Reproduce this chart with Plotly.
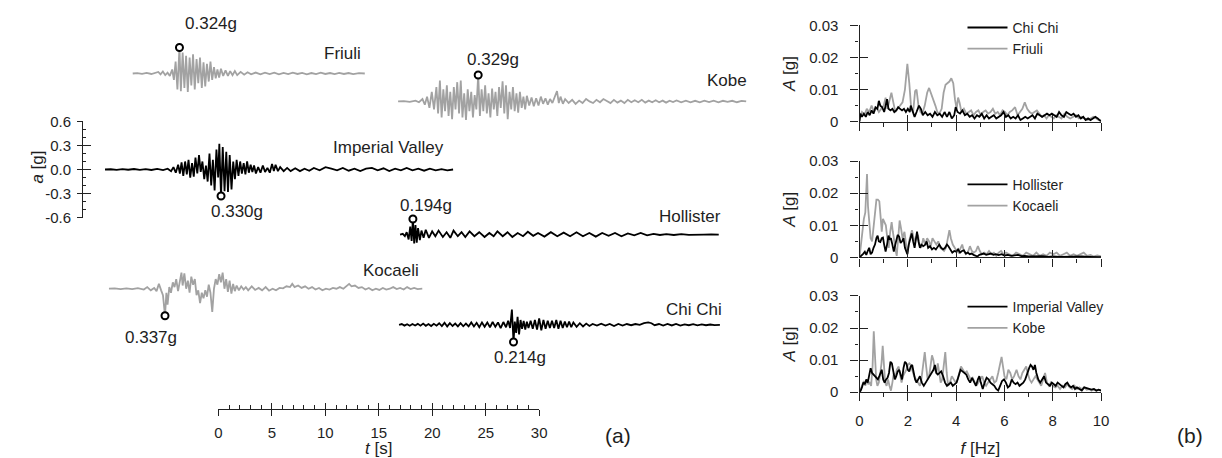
import plotly.graph_objects as go

# ---------------------------------------------------------------------------
# Accelerograms: time from record start [s], ground acceleration [g]
# ---------------------------------------------------------------------------
friuli_t = [0, 0.43, 0.87, 1.3, 1.74, 2.17, 2.39, 2.6, 2.82, 3.04, 3.26, 3.47, 3.69,
            3.85, 4.01, 4.18, 4.37, 4.5, 4.67, 4.83, 4.99, 5.15, 5.32, 5.48, 5.64, 5.8, 5.97, 6.13, 6.29,
            6.46, 6.62, 6.78, 6.94, 7.11, 7.27, 7.43, 7.6, 7.76, 7.92, 8.08, 8.25,
            8.46, 8.68, 8.9, 9.11, 9.33, 9.55, 9.77, 10.09, 10.42, 10.74, 11.07,
            11.5, 11.94, 12.37, 12.8, 13.24, 13.67, 14.11, 14.54, 14.97, 15.41, 15.84, 16.28, 16.71, 17.14,
            17.58, 18.01, 18.45, 18.88, 19.31, 19.75, 20.18, 20.62, 21.16, 21.7]
friuli_a = [0, 0.005, -0.005, 0.008, -0.006, 0.01, 0.02, -0.01, 0.025, -0.02, 0.01, -0.03, 0.05,
            -0.08, 0.15, -0.2, 0.324, -0.22, 0.26, -0.18, 0.22, -0.23, 0.2, -0.15, 0.24, -0.2, 0.18, -0.12, 0.2,
            -0.18, 0.14, -0.16, 0.12, -0.1, 0.15, -0.08, 0.08, -0.06, 0.05, -0.05, 0.06,
            -0.03, 0.04, -0.03, 0.03, -0.02, 0.03, -0.02, 0.02, -0.015, 0.015, -0.01,
            0.012, -0.01, 0.01, -0.008, 0.01, -0.01, 0.008, -0.008, 0.01, -0.006, 0.008, -0.01, 0.006, -0.008,
            0.01, -0.006, 0.006, -0.008, 0.008, -0.006, 0.006, -0.008, 0.005, 0.0]

kobe_t = [0, 0.54, 1.09, 1.63, 1.95, 2.28, 2.5, 2.71, 2.93, 3.15, 3.36, 3.58,
          3.74, 3.91, 4.07, 4.23, 4.39, 4.56, 4.72, 4.88, 5.05, 5.21, 5.37, 5.53, 5.7, 5.86, 6.02, 6.18, 6.35,
          6.51, 6.67, 6.84, 7.0, 7.16, 7.32, 7.49, 7.65, 7.81, 7.97, 8.14, 8.3, 8.46, 8.63, 8.79, 8.95, 9.11,
          9.28, 9.44, 9.6, 9.77, 9.93, 10.09, 10.25, 10.42, 10.58, 10.74, 10.9, 11.07, 11.23, 11.39, 11.56,
          11.72, 11.88,
          12.04, 12.26, 12.48, 12.69, 12.91, 13.13, 13.35, 13.56, 13.78, 14.0, 14.21, 14.43, 14.65, 14.86, 15.03,
          15.19, 15.41, 15.62, 15.95, 16.28, 16.6, 16.93, 17.25, 17.58, 17.9, 18.23, 18.55, 18.88, 19.2, 19.53,
          19.86, 20.18, 20.51, 20.83, 21.16, 21.48, 21.81, 22.13, 22.46, 22.79, 23.11, 23.44, 23.76, 24.09, 24.41,
          24.74, 25.06, 25.39, 25.71, 26.04, 26.47, 26.91, 27.34, 27.78, 28.21, 28.64, 29.08, 29.51, 29.95, 30.38,
          30.81, 31.25, 31.68, 32.12, 32.55]
kobe_a = [0, 0.005, -0.006, 0.01, -0.01, 0.03, -0.04, 0.06, -0.08, 0.12, -0.1, 0.18,
          -0.15, 0.26, -0.2, 0.15, -0.12, 0.2, -0.18, 0.12, -0.22, 0.18, -0.1, 0.24, -0.15, 0.26, -0.2, 0.1, -0.23,
          0.15, -0.12, 0.12, -0.2, 0.08, -0.1, 0.329, -0.18, 0.15, -0.12, 0.2, -0.15, 0.1, -0.2, 0.16, -0.1, 0.12,
          -0.18, 0.18, -0.08, 0.25, -0.15, 0.2, -0.22, 0.12, -0.1, 0.18, -0.12, 0.1, -0.14, 0.12, -0.08,
          0.06, -0.1,
          0.07, -0.05, 0.05, -0.06, 0.04, -0.05, 0.06, -0.03, 0.04, -0.04, 0.03, -0.02, 0.05, 0.13, -0.02,
          0.06, -0.03, 0.03, -0.02, 0.02, -0.03, 0.01, -0.02, 0.03, 0.0, -0.02, 0.02, -0.01, 0.03, 0.0,
          -0.02, 0.02, -0.015, 0.01, -0.02, 0.02, -0.01, 0.015, -0.01, 0.02, -0.015, 0.01, -0.01, 0.015, -0.01,
          0.01, -0.015, 0.01, -0.008, 0.012, -0.01, 0.01, -0.01, 0.008, -0.01, 0.01, -0.008, 0.01, -0.01, 0.008,
          -0.006, 0.008, -0.01, 0.006, 0.0]

imperial_t = [0, 0.54, 1.09, 1.63, 2.17, 2.71, 3.26, 3.8, 4.34, 4.88, 5.43, 5.86, 6.18, 6.4,
              6.62, 6.84, 7.0, 7.16, 7.32, 7.49, 7.65, 7.81, 7.97, 8.14, 8.3, 8.46, 8.63, 8.79, 8.95, 9.11,
              9.28, 9.44, 9.6, 9.77, 9.93, 10.09, 10.25, 10.42, 10.58, 10.69, 10.85,
              11.01, 11.18, 11.34, 11.5, 11.66, 11.83, 11.99, 12.15, 12.31, 12.48, 12.64, 12.8, 12.97, 13.13,
              13.29, 13.45, 13.62, 13.78, 13.94, 14.11,
              14.32, 14.54, 14.76, 14.97, 15.19, 15.41, 15.62, 15.79, 15.95, 16.17, 16.38, 16.71, 17.03, 17.36,
              17.79, 18.23, 18.66, 19.1, 19.53,
              20.07, 20.62, 21.16, 21.7, 22.24, 22.79, 23.33, 23.87, 24.41, 24.96, 25.5, 26.04, 26.58, 27.13,
              27.67, 28.21, 28.75, 29.3, 29.84, 30.38, 30.92, 31.47, 32.01, 32.55]
imperial_a = [0, 0.003, -0.004, 0.005, -0.003, 0.006, -0.005, 0.004, -0.006, 0.008, -0.007, 0.01, -0.02, 0.03,
              -0.04, 0.06, -0.05, 0.09, -0.08, 0.1, -0.06, 0.12, -0.1, 0.08, -0.09, 0.15, -0.05, 0.18, -0.03, 0.1,
              -0.12, 0.05, -0.15, 0.2, -0.2, 0.12, -0.26, 0.25, -0.1, 0.32, -0.33,
              0.28, -0.27, 0.22, -0.28, 0.18, -0.25, 0.1, -0.12, 0.12, -0.08, 0.1, -0.05, 0.08, -0.06,
              0.1, -0.04, 0.06, -0.03, 0.05, -0.05,
              0.03, -0.04, 0.05, -0.03, 0.02, -0.04, 0.07, -0.02, 0.06, -0.02, 0.03, -0.02, 0.02, -0.02,
              0.015, -0.02, 0.01, -0.015, 0.02,
              -0.01, 0.03, 0.01, -0.01, 0.02, -0.015, 0.01, -0.02, 0.01, 0.02, -0.01, 0.015, -0.02, 0.01,
              -0.01, 0.02, -0.01, 0.01, -0.015, 0.01, -0.01, 0.005, -0.01, 0.0]

hollister_t = [0, 0.25, 0.45, 0.62, 0.8, 0.95, 1.08, 1.2, 1.32, 1.44,
               1.56, 1.68, 1.85, 2.0, 2.2, 2.4, 2.7, 3.0, 3.3, 3.6,
               4.0, 4.35, 4.7, 5.0, 5.4, 5.75, 6.1, 6.5, 6.95, 7.4,
               7.9, 8.35, 8.75, 9.1, 9.6, 10.05, 10.5, 11.0, 11.5, 11.95,
               12.45, 12.9, 13.5, 14.1, 14.7, 15.3, 15.9, 16.5, 17.1, 17.7,
               18.3, 18.9, 19.5, 20.1, 20.7, 21.3, 21.9, 22.5, 23.1, 23.7,
               24.3, 24.9, 25.6, 26.3, 27.0, 27.7, 28.4, 29.1, 29.8]
hollister_a = [0, 0.01, -0.02, 0.03, -0.06, 0.1, -0.08, 0.194, -0.11, 0.12,
               -0.1, 0.08, -0.07, 0.05, -0.04, 0.06, -0.04, 0.04, -0.02, 0.05,
               -0.03, 0.03, -0.04, 0.05, -0.02, 0.03, -0.03, 0.04, -0.02, 0.03,
               -0.03, 0.02, -0.02, 0.04, -0.02, 0.03, -0.03, 0.02, -0.02, 0.035,
               -0.015, 0.02, -0.025, 0.03, -0.02, 0.025, -0.02, 0.03, -0.02, 0.02,
               -0.025, 0.02, -0.015, 0.02, -0.02, 0.015, -0.01, 0.02, -0.01, 0.01,
               -0.005, 0.005, -0.005, 0.005, -0.003, 0.003, 0, 0.002, 0]

kocaeli_t = [0, 0.54, 1.09, 1.63, 2.17, 2.71, 3.26, 3.58, 3.91, 4.23,
             4.45, 4.67, 4.88, 5.05, 5.24, 5.37, 5.48, 5.64, 5.8, 5.97,
             6.13, 6.29, 6.46, 6.62, 6.78, 6.89, 7.05, 7.22, 7.38, 7.54,
             7.7, 7.87, 8.03, 8.19, 8.35, 8.52, 8.68, 8.84, 9.01, 9.17,
             9.33, 9.49, 9.66, 9.82, 9.98, 10.14, 10.31, 10.47, 10.63, 10.8,
             10.96, 11.12, 11.28, 11.45, 11.61, 11.77, 11.94, 12.15, 12.37, 12.59,
             12.8, 13.02, 13.35, 13.67, 14.0, 14.32, 14.65, 14.97, 15.3, 15.62,
             15.95, 16.28, 16.6, 16.93, 17.14, 17.36, 17.69, 18.01, 18.34, 18.66,
             18.99, 19.31, 19.64, 19.96, 20.29, 20.62, 20.94, 21.27, 21.59, 21.92,
             22.24, 22.46, 22.68, 23.0, 23.33, 23.65, 23.98, 24.3, 24.63, 24.96,
             25.28, 25.61, 25.93, 26.26, 26.58, 26.91, 27.23, 27.56, 27.88, 28.21,
             28.54, 28.86, 29.3]
kocaeli_a = [0, 0.004, -0.004, 0.005, -0.005, 0.008, -0.01, 0.02, -0.02, 0.01,
             -0.03, 0.06, -0.02, -0.08, -0.337, -0.05, -0.2, 0.02, -0.05, 0.08,
             0.02, 0.12, -0.03, 0.1, 0.2, 0.04, 0.19, 0.0, 0.1, -0.05,
             0.15, 0.05, 0.12, -0.08, -0.02, -0.18, -0.05, -0.12, -0.02, -0.1,
             0.05, -0.05, -0.29, 0.0, 0.12, 0.05, 0.18, 0.08, 0.2, 0.0,
             0.12, -0.04, 0.1, -0.06, 0.06, -0.03, 0.04, -0.02, 0.03, -0.01,
             0.02, -0.02, 0.03, -0.015, 0.01, -0.02, 0.02, -0.025, 0.0, -0.02,
             0.01, 0.005, 0.03, 0.02, 0.06, 0.02, 0.04, 0.01, 0.03, 0.0,
             0.02, -0.01, 0.01, -0.02, 0.0, -0.01, 0.01, 0.0, 0.02, 0.0,
             0.03, 0.06, 0.03, 0.04, 0.01, 0.02, -0.01, 0.01, -0.02, 0.0,
             -0.015, 0.01, -0.01, 0.0, 0.02, -0.005, 0.01, -0.01, 0.02, -0.005,
             0.01, -0.005, 0]

chichi_t = [0.0, 0.25, 0.5, 0.75, 1.0, 1.25, 1.5, 1.75, 2.0, 2.25, 2.5, 2.75, 3.0, 3.25, 3.5, 3.75,
            4.0, 4.25, 4.5, 4.75, 5.0, 5.25, 5.5, 5.75, 6.0, 6.25, 6.5, 6.75, 7.0, 7.25, 7.5, 7.75,
            8.0, 8.25, 8.5, 8.75, 9.0, 9.25, 9.5, 9.75, 10.0,
            10.2, 10.38, 10.55, 10.7, 10.82, 10.95, 11.08, 11.22, 11.36, 11.5,
            11.65, 11.8, 11.95, 12.1, 12.3, 12.5, 12.7, 12.9, 13.1, 13.3,
            13.5, 13.7, 13.9, 14.1, 14.3, 14.5, 14.7, 14.9, 15.1, 15.3,
            15.5, 15.7, 15.9, 16.1, 16.3, 16.6, 16.9, 17.2, 17.5, 17.8,
            18.1, 18.5, 18.9, 19.3, 19.7, 20.1, 20.5, 20.9, 21.3, 21.7,
            22.1, 22.5, 22.9, 23.3, 23.6, 23.9, 24.3, 24.7, 25.1, 25.5,
            25.9, 26.3, 26.7, 27.1, 27.5, 27.9, 28.3, 28.7, 29.1, 29.5, 30.0]
chichi_a = [0, 0.01, -0.01, 0.008, -0.012, 0.01, -0.008, 0.012, -0.01, 0.015, -0.012, 0.01, -0.015, 0.012,
            -0.01, 0.02, -0.015, 0.025, -0.02, 0.02, -0.015, 0.015, -0.02, 0.02, -0.018, 0.015, -0.02, 0.03,
            -0.02, 0.025, -0.03, 0.03, -0.025, 0.03, -0.03, 0.035, -0.025, 0.03, -0.04, 0.035, -0.03,
            0.05, -0.04, 0.19, -0.214, 0.04, -0.1, 0.1, -0.12, 0.06, -0.05,
            0.05, -0.06, 0.04, -0.04, 0.05, -0.05, 0.06, -0.06, 0.08, -0.07,
            0.06, -0.05, 0.05, -0.04, 0.05, -0.04, 0.06, -0.05, 0.05, -0.04,
            0.04, -0.03, 0.04, -0.03, 0.03, -0.025, 0.02, -0.02, 0.015, -0.015,
            0.01, -0.01, 0.015, -0.01, 0.01, -0.015, 0.01, -0.01, 0.01, -0.005,
            0.01, 0.0, 0.02, 0.03, 0.02, -0.005, 0.01, -0.01, 0.01, -0.008,
            0.01, -0.01, 0.006, -0.005, 0.008, -0.006, 0.005, -0.005, 0.004, -0.003, 0]

# ---------------------------------------------------------------------------
# Fourier amplitude spectra: frequency [Hz], amplitude [g]
# ---------------------------------------------------------------------------
friuli_f = [0.00, 0.10, 0.20, 0.30, 0.40, 0.50, 0.60, 0.70, 0.80, 0.90,
            1.00, 1.08, 1.15, 1.22, 1.32, 1.40, 1.48, 1.58, 1.68, 1.78,
            1.88, 1.98, 2.06, 2.14, 2.22, 2.30, 2.36, 2.44, 2.52, 2.60,
            2.70, 2.80, 2.88, 2.96, 3.05, 3.14, 3.22, 3.30, 3.40, 3.48,
            3.56, 3.64, 3.72, 3.80, 3.88, 3.95, 4.02, 4.08, 4.14, 4.22,
            4.32, 4.42, 4.52, 4.62, 4.72, 4.82, 4.92, 5.02, 5.12, 5.22,
            5.32, 5.42, 5.52, 5.62, 5.72, 5.82, 5.92, 6.02, 6.12, 6.22,
            6.32, 6.44, 6.54, 6.64, 6.74, 6.84, 6.94, 7.04, 7.14, 7.24,
            7.34, 7.44, 7.54, 7.64, 7.74, 7.84, 7.94, 8.04, 8.14, 8.24,
            8.36, 8.48, 8.60, 8.72, 8.84, 8.96, 9.08, 9.20, 9.32, 9.44,
            9.56, 9.68, 9.80, 9.90, 10.0]
friuli_A = [0.0015, 0.003, 0.002, 0.004, 0.003, 0.005, 0.003, 0.0045, 0.003, 0.004,
            0.005, 0.0075, 0.004, 0.006, 0.009, 0.006, 0.003, 0.004, 0.005, 0.006,
            0.010, 0.018, 0.012, 0.004, 0.003, 0.0095, 0.010, 0.005, 0.003, 0.0025,
            0.005, 0.009, 0.0105, 0.009, 0.007, 0.005, 0.003, 0.0025, 0.004, 0.009,
            0.0115, 0.012, 0.0125, 0.0135, 0.012, 0.007, 0.004, 0.0075, 0.006, 0.003,
            0.004, 0.0025, 0.003, 0.0035, 0.002, 0.003, 0.0035, 0.002, 0.003, 0.0035,
            0.0025, 0.003, 0.004, 0.0025, 0.003, 0.002, 0.0035, 0.003, 0.002, 0.003,
            0.0035, 0.0045, 0.002, 0.003, 0.004, 0.006, 0.004, 0.003, 0.0025, 0.003,
            0.0035, 0.0025, 0.0015, 0.002, 0.001, 0.002, 0.0015, 0.001, 0.002, 0.0015,
            0.001, 0.0025, 0.0015, 0.001, 0.0015, 0.002, 0.001, 0.0015, 0.001, 0.0005,
            0.001, 0.0015, 0.001, 0.0005, 0.0005]

chichi_f = [0.00, 0.04, 0.10, 0.18, 0.26, 0.34, 0.42, 0.50, 0.58, 0.66,
            0.74, 0.80, 0.86, 0.94, 1.02, 1.10, 1.14, 1.20, 1.28, 1.36,
            1.44, 1.52, 1.60, 1.68, 1.76, 1.84, 1.92, 2.00, 2.08, 2.12,
            2.20, 2.28, 2.36, 2.46, 2.54, 2.62, 2.72, 2.82, 2.92, 3.02,
            3.12, 3.22, 3.32, 3.42, 3.52, 3.62, 3.72, 3.82, 3.92, 3.98,
            4.06, 4.16, 4.26, 4.36, 4.46, 4.56, 4.66, 4.76, 4.86, 4.96,
            5.06, 5.16, 5.26, 5.36, 5.46, 5.56, 5.66, 5.76, 5.86, 5.96,
            6.06, 6.16, 6.26, 6.36, 6.46, 6.56, 6.66, 6.76, 6.86, 6.96,
            7.06, 7.16, 7.26, 7.36, 7.46, 7.56, 7.66, 7.76, 7.86, 7.96,
            8.06, 8.16, 8.26, 8.36, 8.46, 8.56, 8.66, 8.76, 8.86, 8.96,
            9.06, 9.16, 9.26, 9.36, 9.46, 9.56, 9.66, 9.76, 9.86, 9.94,
            10.0]
chichi_A = [0.0, 0.0025, 0.0015, 0.0025, 0.0015, 0.003, 0.002, 0.0035, 0.0025, 0.0045,
            0.004, 0.0065, 0.005, 0.0045, 0.003, 0.0055, 0.007, 0.004, 0.0035, 0.004,
            0.003, 0.0035, 0.0045, 0.004, 0.0035, 0.004, 0.003, 0.004, 0.003, 0.005,
            0.003, 0.0015, 0.003, 0.005, 0.004, 0.002, 0.003, 0.002, 0.0025, 0.0015,
            0.003, 0.002, 0.0025, 0.0015, 0.003, 0.0015, 0.003, 0.001, 0.002, 0.0045,
            0.003, 0.0025, 0.0035, 0.002, 0.0025, 0.0015, 0.002, 0.001, 0.002, 0.0015,
            0.0025, 0.001, 0.002, 0.001, 0.0015, 0.002, 0.001, 0.0015, 0.002, 0.003,
            0.0015, 0.002, 0.001, 0.0015, 0.001, 0.002, 0.0005, 0.001, 0.0015, 0.001,
            0.0015, 0.002, 0.001, 0.0025, 0.002, 0.0015, 0.002, 0.0025, 0.002, 0.0025,
            0.002, 0.0015, 0.003, 0.002, 0.0015, 0.003, 0.0025, 0.002, 0.0025, 0.0015,
            0.002, 0.001, 0.0015, 0.0005, 0.001, 0.0005, 0.001, 0.0015, 0.001, 0.0005,
            0.0]

kocaeli_f = [0.00, 0.06, 0.12, 0.18, 0.24, 0.28, 0.31, 0.35, 0.40, 0.46,
             0.52, 0.58, 0.64, 0.70, 0.76, 0.82, 0.88, 0.92, 0.97, 1.03,
             1.09, 1.15, 1.21, 1.27, 1.33, 1.38, 1.44, 1.50, 1.54, 1.60,
             1.66, 1.72, 1.78, 1.86, 1.92, 1.98, 2.05, 2.12, 2.17, 2.24,
             2.30, 2.36, 2.42, 2.48, 2.56, 2.64, 2.72, 2.80, 2.88, 2.95,
             3.02, 3.10, 3.18, 3.26, 3.34, 3.42, 3.50, 3.58, 3.66, 3.72,
             3.78, 3.86, 3.94, 4.02, 4.10, 4.18, 4.25, 4.32, 4.40, 4.48,
             4.57, 4.65, 4.73, 4.82, 4.90, 4.98, 5.06, 5.16, 5.26, 5.36,
             5.46, 5.56, 5.66, 5.76, 5.86, 5.96, 6.06, 6.20, 6.34, 6.48,
             6.62, 6.76, 6.90, 7.04, 7.18, 7.32, 7.46, 7.60, 7.74, 7.88,
             8.02, 8.16, 8.30, 8.44, 8.58, 8.72, 8.86, 9.00, 9.14, 9.28,
             9.42, 9.56, 9.70, 9.84, 10.0]
kocaeli_A = [0.0, 0.004, 0.01, 0.012, 0.014, 0.02, 0.026, 0.016, 0.01, 0.006,
             0.005, 0.01, 0.014, 0.018, 0.018, 0.0175, 0.012, 0.008, 0.012, 0.011,
             0.01, 0.006, 0.003, 0.008, 0.011, 0.008, 0.004, 0.002, 0.0005, 0.006,
             0.0115, 0.009, 0.006, 0.008, 0.004, 0.001, 0.005, 0.007, 0.0085, 0.006,
             0.005, 0.0065, 0.007, 0.004, 0.003, 0.006, 0.004, 0.006, 0.005, 0.0035,
             0.006, 0.005, 0.004, 0.005, 0.003, 0.0025, 0.002, 0.003, 0.006, 0.0085,
             0.006, 0.004, 0.003, 0.002, 0.0015, 0.003, 0.004, 0.002, 0.001, 0.0015,
             0.0035, 0.002, 0.0015, 0.002, 0.0035, 0.002, 0.001, 0.0015, 0.001, 0.002,
             0.001, 0.0015, 0.0005, 0.0015, 0.002, 0.001, 0.0015, 0.001, 0.0005, 0.0015,
             0.001, 0.0005, 0.0015, 0.001, 0.0005, 0.0015, 0.0005, 0.001, 0.0005, 0.0015,
             0.001, 0.0015, 0.0005, 0.001, 0.0015, 0.0005, 0.001, 0.0005, 0.001, 0.0015,
             0.0005, 0.0008, 0.0003, 0.0006, 0.0003]

hollister_f = [0.00, 0.08, 0.16, 0.22, 0.28, 0.34, 0.40, 0.46, 0.52, 0.58,
               0.64, 0.70, 0.75, 0.80, 0.86, 0.92, 0.97, 1.02, 1.08, 1.14,
               1.20, 1.25, 1.30, 1.36, 1.42, 1.48, 1.54, 1.58, 1.64, 1.70,
               1.76, 1.82, 1.88, 1.94, 1.98, 2.04, 2.10, 2.16, 2.22, 2.28,
               2.34, 2.38, 2.44, 2.50, 2.56, 2.64, 2.72, 2.78, 2.84, 2.92,
               3.00, 3.08, 3.16, 3.24, 3.30, 3.38, 3.46, 3.54, 3.62, 3.68,
               3.76, 3.84, 3.92, 4.00, 4.08, 4.16, 4.24, 4.32, 4.40, 4.48,
               4.56, 4.64, 4.72, 4.80, 4.88, 4.96, 5.04, 5.14, 5.24, 5.34,
               5.44, 5.54, 5.64, 5.76, 5.88, 6.00, 6.14, 6.28, 6.42, 6.56,
               6.70, 6.84, 7.00, 7.20, 7.40, 7.60, 7.80, 8.00, 8.30, 8.60,
               8.90, 9.20, 9.50, 9.80, 10.0]
hollister_A = [0.0, 0.0005, 0.0012, 0.0018, 0.0008, 0.002, 0.003, 0.001, 0.0015, 0.003,
               0.004, 0.006, 0.0068, 0.005, 0.0048, 0.006, 0.0062, 0.004, 0.0018, 0.004,
               0.0068, 0.0055, 0.006, 0.004, 0.0018, 0.004, 0.006, 0.007, 0.0065, 0.0045,
               0.005, 0.006, 0.003, 0.0015, 0.001, 0.004, 0.006, 0.0075, 0.005, 0.003,
               0.006, 0.008, 0.005, 0.003, 0.004, 0.0035, 0.004, 0.005, 0.003, 0.0035,
               0.0025, 0.003, 0.0025, 0.0035, 0.004, 0.003, 0.0025, 0.003, 0.004, 0.0035,
               0.0025, 0.0015, 0.002, 0.0018, 0.0025, 0.0015, 0.002, 0.0022, 0.0012, 0.0015,
               0.001, 0.0012, 0.0008, 0.0005, 0.0003, 0.0008, 0.001, 0.0012, 0.0008, 0.001,
               0.0012, 0.0008, 0.001, 0.0007, 0.001, 0.0006, 0.0008, 0.0005, 0.0007, 0.0008,
               0.0004, 0.0005, 0.0003, 0.0004, 0.0003, 0.0004, 0.0002, 0.0003, 0.0002, 0.0003,
               0.0002, 0.0003, 0.0002, 0.0002, 0.0001]

kobe_f = [0.00, 0.06, 0.12, 0.18, 0.24, 0.30, 0.36, 0.42, 0.48, 0.54,
          0.59, 0.64, 0.69, 0.74, 0.80, 0.86, 0.91, 0.96, 1.01, 1.06,
          1.12, 1.18, 1.24, 1.30, 1.36, 1.42, 1.48, 1.54, 1.62, 1.68,
          1.74, 1.80, 1.88, 1.94, 2.00, 2.06, 2.12, 2.18, 2.26, 2.34,
          2.42, 2.50, 2.56, 2.62, 2.70, 2.76, 2.82, 2.88, 2.94, 3.00,
          3.06, 3.12, 3.18, 3.24, 3.30, 3.36, 3.42, 3.48, 3.55, 3.61,
          3.67, 3.74, 3.82, 3.90, 3.98, 4.06, 4.14, 4.20, 4.28, 4.36,
          4.44, 4.52, 4.60, 4.68, 4.76, 4.84, 4.92, 5.00, 5.08, 5.16,
          5.24, 5.32, 5.40, 5.50, 5.58, 5.66, 5.74, 5.82, 5.88, 5.94,
          6.00, 6.08, 6.16, 6.24, 6.32, 6.40, 6.50, 6.58, 6.66, 6.74,
          6.82, 6.90, 6.96, 7.04, 7.12, 7.20, 7.28, 7.36, 7.44, 7.52,
          7.60, 7.68, 7.76, 7.84, 7.92, 8.00, 8.10, 8.20, 8.30, 8.40,
          8.50, 8.60, 8.70, 8.80, 8.90, 9.00, 9.10, 9.20, 9.30, 9.40,
          9.50, 9.60, 9.70, 9.80, 9.90, 10.0]
kobe_A = [0.0, 0.001, 0.002, 0.0035, 0.002, 0.004, 0.0025, 0.003, 0.002, 0.008,
          0.019, 0.01, 0.004, 0.002, 0.003, 0.006, 0.009, 0.0145, 0.008, 0.003,
          0.002, 0.004, 0.002, 0.0005, 0.003, 0.006, 0.004, 0.007, 0.008, 0.006,
          0.003, 0.005, 0.006, 0.007, 0.0085, 0.009, 0.0085, 0.007, 0.005, 0.004,
          0.003, 0.002, 0.004, 0.007, 0.0125, 0.008, 0.004, 0.005, 0.009, 0.0115,
          0.01, 0.007, 0.006, 0.009, 0.006, 0.003, 0.004, 0.008, 0.0125, 0.006,
          0.002, 0.003, 0.005, 0.004, 0.003, 0.004, 0.006, 0.008, 0.007, 0.006,
          0.0065, 0.005, 0.004, 0.0045, 0.003, 0.002, 0.003, 0.004, 0.005, 0.003,
          0.002, 0.003, 0.004, 0.005, 0.003, 0.0035, 0.006, 0.009, 0.011, 0.008,
          0.005, 0.004, 0.007, 0.006, 0.004, 0.005, 0.007, 0.005, 0.004, 0.006,
          0.007, 0.008, 0.006, 0.004, 0.003, 0.004, 0.005, 0.004, 0.003, 0.002,
          0.004, 0.006, 0.003, 0.002, 0.003, 0.002, 0.0015, 0.002, 0.001, 0.002,
          0.0015, 0.0025, 0.0015, 0.001, 0.002, 0.001, 0.0015, 0.001, 0.0015, 0.0008,
          0.001, 0.0005, 0.001, 0.0006, 0.0008, 0.0005]

imperial_f = [0.00, 0.05, 0.10, 0.16, 0.22, 0.28, 0.34, 0.40, 0.46, 0.52,
              0.58, 0.64, 0.70, 0.76, 0.82, 0.88, 0.92, 0.98, 1.04, 1.10,
              1.16, 1.22, 1.28, 1.34, 1.40, 1.46, 1.52, 1.58, 1.64, 1.70,
              1.76, 1.82, 1.88, 1.94, 2.00, 2.06, 2.12, 2.18, 2.24, 2.30,
              2.36, 2.42, 2.50, 2.58, 2.66, 2.74, 2.82, 2.90, 2.98, 3.06,
              3.12, 3.18, 3.24, 3.30, 3.38, 3.46, 3.54, 3.62, 3.70, 3.78,
              3.86, 3.94, 4.02, 4.10, 4.18, 4.26, 4.34, 4.42, 4.50, 4.58,
              4.66, 4.74, 4.82, 4.90, 4.96, 5.02, 5.10, 5.18, 5.26, 5.34,
              5.42, 5.50, 5.58, 5.66, 5.74, 5.82, 5.90, 5.98, 6.06, 6.14,
              6.22, 6.30, 6.38, 6.46, 6.54, 6.62, 6.70, 6.78, 6.86, 6.94,
              7.02, 7.08, 7.14, 7.20, 7.26, 7.32, 7.40, 7.48, 7.56, 7.64,
              7.72, 7.80, 7.88, 7.96, 8.04, 8.12, 8.20, 8.28, 8.36, 8.44,
              8.52, 8.60, 8.68, 8.76, 8.84, 8.92, 9.00, 9.10, 9.20, 9.30,
              9.40, 9.50, 9.60, 9.70, 9.80, 9.90, 10.0]
imperial_A = [0.0, 0.0005, 0.0015, 0.003, 0.0025, 0.004, 0.003, 0.005, 0.0075, 0.006,
              0.0055, 0.005, 0.0045, 0.004, 0.005, 0.0065, 0.007, 0.004, 0.003, 0.004,
              0.0045, 0.006, 0.0095, 0.009, 0.006, 0.004, 0.005, 0.0065, 0.007, 0.005,
              0.004, 0.0075, 0.0095, 0.009, 0.007, 0.0065, 0.008, 0.0085, 0.006, 0.004,
              0.003, 0.004, 0.005, 0.003, 0.002, 0.003, 0.004, 0.005, 0.006, 0.007,
              0.0085, 0.006, 0.0055, 0.006, 0.0065, 0.005, 0.003, 0.002, 0.0025, 0.003,
              0.002, 0.0025, 0.003, 0.005, 0.007, 0.0065, 0.006, 0.0055, 0.004, 0.003,
              0.0045, 0.003, 0.002, 0.004, 0.005, 0.003, 0.001, 0.003, 0.0045, 0.004,
              0.003, 0.0025, 0.002, 0.001, 0.0005, 0.002, 0.0035, 0.004, 0.003, 0.0015,
              0.002, 0.004, 0.003, 0.0025, 0.003, 0.002, 0.0025, 0.003, 0.004, 0.006,
              0.0075, 0.0085, 0.008, 0.007, 0.0085, 0.006, 0.004, 0.003, 0.004, 0.005,
              0.003, 0.0025, 0.002, 0.003, 0.0025, 0.002, 0.003, 0.0025, 0.002, 0.0015,
              0.0025, 0.003, 0.002, 0.0015, 0.002, 0.001, 0.0015, 0.001, 0.0005, 0.0015,
              0.0012, 0.001, 0.0008, 0.001, 0.0005, 0.0008, 0.0005]

# axis tick values and labels
accel_ticks = [-0.6, -0.3, 0.0, 0.3, 0.6]
accel_tick_text = ["-0.6", "-0.3", "0.0", "0.3", "0.6"]
time_ticks = [0, 5, 10, 15, 20, 25, 30]
freq_ticks = [0, 2, 4, 6, 8, 10]
amp_ticks = [0, 0.01, 0.02, 0.03]
amp_tick_text = ["0", "0.01", "0.02", "0.03"]

# ---------------------------------------------------------------------------
# styling and geometry (pixels on a 1222 x 458 canvas)
# ---------------------------------------------------------------------------
W, H = 1222, 458
FONT = "Arial, 'Liberation Sans', Helvetica, sans-serif"
INK = "#000000"
GREY = "#a2a2a2"
TEXT = "#1e1e1e"
AXIS = "#222222"
FS_TICK = 15
FS_LEG = 14
FS_NOTE = 17
FS_TITLE = 17


def px_x(px):
    return px / W


def px_y(px):
    return 1 - px / H


T0_PX = 216.5        # position of t = 0 s
PX_PER_S = 10.8
G0_PX = 166.7        # zero line of the Imperial Valley record
PX_PER_G = 83.33
LEFT_EDGE_PX = 780
T_AXIS_PX = 415.0
AXIS_A_PX = 79.0

# where each accelerogram sits in panel (a), and offsets of its peak and name labels
placement = {
    "Friuli":          dict(start_px=130.0, base_px=67.0,  color=GREY, peak_off=(32, -24),
                            name_off=(-2, 20.5)),
    "Kobe":            dict(start_px=398.0, base_px=96.0,  color=GREY, peak_off=(15, -16),
                            name_off=(3, 20.5)),
    "Imperial Valley": dict(start_px=102.0, base_px=166.7, color=INK,  peak_off=(16, 16),
                            name_off=(-7, 22.0)),
    "Hollister":       dict(start_px=400.0, base_px=234.3, color=INK,  peak_off=(13, -14),
                            name_off=(4, 18.0)),
    "Kocaeli":         dict(start_px=106.0, base_px=290.5, color=GREY, peak_off=(-14, 22),
                            name_off=(-1, 18.5)),
    "Chi Chi":         dict(start_px=399.0, base_px=328.0, color=INK,  peak_off=(6, 15),
                            name_off=(4, 15.0)),
}

records = [
    ("Friuli", friuli_t, friuli_a),
    ("Kobe", kobe_t, kobe_a),
    ("Imperial Valley", imperial_t, imperial_a),
    ("Hollister", hollister_t, hollister_a),
    ("Kocaeli", kocaeli_t, kocaeli_a),
    ("Chi Chi", chichi_t, chichi_a),
]

fig = go.Figure()
annotations = []
peaks_main = dict(x=[], y=[])
peaks_iv = dict(x=[], y=[])

for name, t, a in records:
    if len(t) != len(a):
        raise ValueError(f"length mismatch in {name}")
    p = placement[name]
    t_start = (p["start_px"] - T0_PX) / PX_PER_S
    base = (G0_PX - p["base_px"]) / PX_PER_G
    own_axis = name == "Imperial Valley"
    fig.add_trace(go.Scatter(
        x=[t_start + v for v in t], y=[base + v for v in a],
        mode="lines", line=dict(color=p["color"], width=1.8),
        xaxis="x", yaxis="y2" if own_axis else "y",
        showlegend=False, hoverinfo="skip"))

    k = max(range(len(a)), key=lambda i: abs(a[i]))
    target = peaks_iv if own_axis else peaks_main
    target["x"].append(t_start + t[k])
    target["y"].append(base + a[k])
    dx, dy = p["peak_off"]
    annotations.append(dict(
        x=t_start + t[k], y=base + a[k], xref="x", yref="y",
        text=f"{abs(a[k]):.3f}g", showarrow=False, xanchor="center", yanchor="middle",
        xshift=dx, yshift=-dy, font=dict(family=FONT, size=FS_NOTE, color=TEXT)))
    ndx, ndy = p["name_off"]
    annotations.append(dict(
        x=t_start + t[-1], y=base, xref="x", yref="y", text=name, showarrow=False,
        xanchor="right", yanchor="middle", xshift=ndx, yshift=ndy,
        font=dict(family=FONT, size=FS_NOTE, color=TEXT)))

marker_style = dict(symbol="circle", size=7, color="white", line=dict(color=INK, width=2))
fig.add_trace(go.Scatter(x=peaks_main["x"], y=peaks_main["y"], mode="markers", marker=marker_style,
                         xaxis="x", yaxis="y", showlegend=False, hoverinfo="skip"))
fig.add_trace(go.Scatter(x=peaks_iv["x"], y=peaks_iv["y"], mode="markers", marker=marker_style,
                         xaxis="x", yaxis="y9", showlegend=False, hoverinfo="skip"))

# carriers for the stand-alone time scale and its inner ticks
for ax in ("x2", "x9"):
    fig.add_trace(go.Scatter(x=[time_ticks[0], time_ticks[-1]], y=[0, 0], mode="lines",
                             line=dict(width=0), opacity=0, xaxis=ax, yaxis="y",
                             showlegend=False, hoverinfo="skip"))

# ---------------------------------------------------------------------------
# panel (b): three spectra pairs
# ---------------------------------------------------------------------------
spectra = [
    (("Chi Chi", chichi_f, chichi_A), ("Friuli", friuli_f, friuli_A)),
    (("Hollister", hollister_f, hollister_A), ("Kocaeli", kocaeli_f, kocaeli_A)),
    (("Imperial Valley", imperial_f, imperial_A), ("Kobe", kobe_f, kobe_A)),
]
# (pixel of 0.03, pixel of 0, top of legend)
panel_rows = [(17.0, 117.0, 3.0), (158.0, 258.0, 166.0), (298.0, 398.0, 293.0)]
SPEC_LEFT_PX, SPEC_RIGHT_PX = 864.0, 1108.0
legend_names = ["legend", "legend2", "legend3"]

layout_axes = {}
common = dict(showgrid=False, zeroline=False, linecolor=AXIS, linewidth=1.3, tickcolor=AXIS,
              tickwidth=1.3, tickfont=dict(family=FONT, size=FS_TICK, color=TEXT))

for i, ((black_name, bf, bA), (grey_name, gf, gA)) in enumerate(spectra):
    n, m = 3 + i, 6 + i
    top_px, bot_px, leg_px = panel_rows[i]
    lg = legend_names[i]
    fig.add_trace(go.Scatter(x=gf, y=gA, mode="lines", name=grey_name, legend=lg, legendrank=2,
                             line=dict(color=GREY, width=1.8), xaxis=f"x{n}", yaxis=f"y{n}",
                             hoverinfo="skip"))
    fig.add_trace(go.Scatter(x=bf, y=bA, mode="lines", name=black_name, legend=lg, legendrank=1,
                             line=dict(color=INK, width=1.8), xaxis=f"x{m}", yaxis=f"y{m}",
                             hoverinfo="skip"))
    bottom = i == len(spectra) - 1
    layout_axes[f"xaxis{n}"] = dict(
        common, domain=[px_x(SPEC_LEFT_PX), px_x(SPEC_RIGHT_PX)], range=[0, 10], anchor=f"y{n}",
        showline=True, tickmode="array", tickvals=freq_ticks, ticks="outside", ticklen=8,
        minor=dict(dtick=1, tick0=0, ticks="outside", ticklen=4, tickcolor=AXIS, tickwidth=1.3),
        showticklabels=bottom, ticklabelstandoff=7,
        title=dict(text="<i>f</i> [Hz]" if bottom else "", standoff=14,
                   font=dict(family=FONT, size=FS_TITLE, color=TEXT)))
    layout_axes[f"yaxis{n}"] = dict(
        common, domain=[px_y(bot_px), px_y(top_px)], range=[0, 0.03], anchor=f"x{n}",
        showline=True, tickmode="array", tickvals=amp_ticks, ticktext=amp_tick_text,
        ticks="outside", ticklen=8,
        minor=dict(dtick=0.005, tick0=0, ticks="outside", ticklen=3, tickcolor=AXIS, tickwidth=1.3),
        ticklabelstandoff=9,
        title=dict(text="<i>A</i> [g]", standoff=9, font=dict(family=FONT, size=FS_TITLE, color=TEXT)))
    layout_axes[f"xaxis{m}"] = dict(
        common, overlaying=f"x{n}", anchor=f"y{m}", range=[0, 10], showline=False,
        tickmode="array", tickvals=freq_ticks, ticks="inside", ticklen=7, showticklabels=False)
    layout_axes[f"yaxis{m}"] = dict(
        common, overlaying=f"y{n}", anchor=f"x{m}", range=[0, 0.03], showline=False,
        tickmode="array", tickvals=amp_ticks, ticks="inside", ticklen=8, showticklabels=False)
    layout_axes[lg] = dict(
        x=px_x(968), y=px_y(leg_px), xanchor="left", yanchor="top", bgcolor="rgba(0,0,0,0)",
        borderwidth=0, itemwidth=40, traceorder="normal",
        font=dict(family=FONT, size=FS_LEG, color=TEXT))

# ---------------------------------------------------------------------------
# panel (a) axes
# ---------------------------------------------------------------------------
x_lo = (0 - T0_PX) / PX_PER_S
x_hi = (LEFT_EDGE_PX - T0_PX) / PX_PER_S
layout_axes["xaxis"] = dict(domain=[0, px_x(LEFT_EDGE_PX)], range=[x_lo, x_hi], visible=False,
                            anchor="y")
layout_axes["yaxis"] = dict(domain=[0, 1], range=[(G0_PX - H) / PX_PER_G, G0_PX / PX_PER_G],
                            visible=False, anchor="x")
iv_top_px = G0_PX - accel_ticks[-1] * PX_PER_G
iv_bot_px = G0_PX - accel_ticks[0] * PX_PER_G
layout_axes["yaxis2"] = dict(
    common, domain=[px_y(iv_bot_px), px_y(iv_top_px)], range=[accel_ticks[0], accel_ticks[-1]],
    anchor="free", position=px_x(AXIS_A_PX), showline=True, tickmode="array",
    tickvals=accel_ticks, ticktext=accel_tick_text, ticks="outside", ticklen=5,
    ticklabelstandoff=3)
layout_axes["yaxis9"] = dict(
    common, overlaying="y2", anchor="free", position=px_x(AXIS_A_PX),
    range=[accel_ticks[0], accel_ticks[-1]], showline=False, tickmode="array",
    tickvals=accel_ticks, ticks="inside", ticklen=8, showticklabels=False,
    minor=dict(dtick=0.1, tick0=0, ticks="inside", ticklen=3, tickcolor=AXIS, tickwidth=1.3))
t_right_px = T0_PX + time_ticks[-1] * PX_PER_S
layout_axes["xaxis2"] = dict(
    common, domain=[px_x(T0_PX), px_x(t_right_px)], range=[time_ticks[0], time_ticks[-1]],
    anchor="free", position=px_y(T_AXIS_PX), showline=True, tickmode="array",
    tickvals=time_ticks, ticks="outside", ticklen=6, ticklabelstandoff=4,
    title=dict(text="<i>t</i> [s]", standoff=3, font=dict(family=FONT, size=FS_TITLE, color=TEXT)))
layout_axes["xaxis9"] = dict(
    common, overlaying="x2", anchor="free", position=px_y(T_AXIS_PX),
    range=[time_ticks[0], time_ticks[-1]], showline=False, tickmode="array",
    tickvals=time_ticks, ticks="inside", ticklen=6, showticklabels=False,
    minor=dict(dtick=1, tick0=0, ticks="inside", ticklen=4, tickcolor=AXIS, tickwidth=1.3))

# vertical title of the acceleration scale
annotations.append(dict(x=px_x(34), y=px_y(164), xref="paper", yref="paper",
                        text="<i>a</i> [g]", textangle=-90, showarrow=False,
                        xanchor="center", yanchor="middle",
                        font=dict(family=FONT, size=FS_TITLE, color=TEXT)))
annotations.append(dict(x=px_x(605), y=px_y(443), xref="paper", yref="paper", text="(a)",
                        showarrow=False, xanchor="left", yanchor="middle",
                        font=dict(family=FONT, size=21, color=TEXT)))
annotations.append(dict(x=px_x(1183), y=px_y(443), xref="paper", yref="paper", text="(b)",
                        showarrow=False, xanchor="left", yanchor="middle",
                        font=dict(family=FONT, size=21, color=TEXT)))

fig.update_layout(
    width=W, height=H, margin=dict(l=0, r=0, t=0, b=0, pad=0),
    paper_bgcolor="white", plot_bgcolor="rgba(0,0,0,0)",
    font=dict(family=FONT, size=FS_TICK, color=TEXT),
    showlegend=True, annotations=annotations, **layout_axes)

fig.write_html("out.html")
